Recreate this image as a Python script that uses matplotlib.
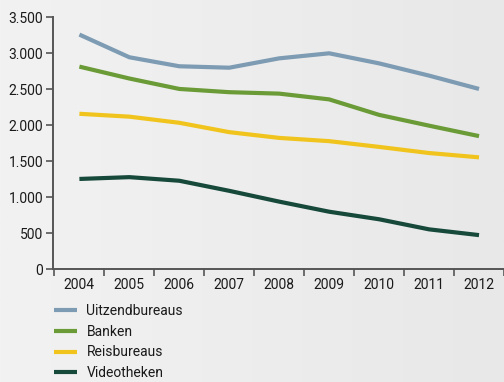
import numpy as np
import matplotlib
matplotlib.use("Agg")
import matplotlib.pyplot as plt
from matplotlib import font_manager

years = ["2004", "2005", "2006", "2007", "2008", "2009", "2010", "2011", "2012"]
uitzendbureaus = [3260, 2945, 2820, 2800, 2930, 3000, 2860, 2690, 2505]
banken = [2815, 2650, 2505, 2460, 2440, 2360, 2145, 1995, 1850]
reisbureaus = [2160, 2120, 2035, 1905, 1825, 1780, 1700, 1615, 1555]
videotheken = [1255, 1280, 1230, 1090, 940, 800, 695, 555, 475]

series_names = ["Uitzendbureaus", "Banken", "Reisbureaus", "Videotheken"]
series_values = [uitzendbureaus, banken, reisbureaus, videotheken]
colors = ["#7d9bb3", "#6a9b37", "#f0c41c", "#17493b"]
yticks = [0, 500, 1000, 1500, 2000, 2500, 3000, 3500]

available = {f.name for f in font_manager.fontManager.ttflist}
family = [f for f in ["Liberation Sans Narrow", "Roboto", "DejaVu Sans"] if f in available]
plt.rcParams["font.family"] = family

fig = plt.figure(figsize=(5.04, 3.82), dpi=100)

# soft horizontal background gradient
bg = fig.add_axes([0, 0, 1, 1], zorder=-10)
grad = np.linspace(0, 1, 256).reshape(1, -1)
bg.imshow(grad, aspect="auto", cmap=matplotlib.colors.LinearSegmentedColormap.from_list(
    "bg", ["#f2f2f2", "#e8e8e9"]), extent=[0, 1, 0, 1])
bg.axis("off")

ax = fig.add_axes([0.105, 0.295, 0.895, 0.6597])
ax.patch.set_alpha(0)
x = np.arange(len(years))
lines = []
for name, vals, c in zip(series_names, series_values, colors):
    ln, = ax.plot(x, vals, color=c, lw=3.0, solid_capstyle="butt", label=name)
    lines.append(ln)

ax.set_ylim(0, 3500)
ax.set_xlim(-0.53, 8.33)
ax.set_yticks(yticks)
ax.set_yticklabels([f"{v:,}".replace(",", ".") for v in yticks])
ax.set_xticks(x)
ax.set_xticklabels(years)
ax.set_xticks(np.arange(-0.5, 8.6, 1.0), minor=True)
ax.tick_params(axis="x", which="major", length=0, pad=6, labelsize=10, colors="#1a1a1a")
ax.tick_params(axis="x", which="minor", length=5, width=1.2, color="#555555", direction="out")
ax.tick_params(axis="y", length=5, width=1.2, color="#555555", labelsize=10, labelcolor="#1a1a1a", pad=2)
for s in ["top", "right"]:
    ax.spines[s].set_visible(False)
for s in ["left", "bottom"]:
    ax.spines[s].set_color("#555555")
    ax.spines[s].set_linewidth(1.4)

leg = fig.legend(handles=lines, loc="upper left", bbox_to_anchor=(0.108, 0.204),
                 frameon=False, fontsize=10, handlelength=1.6, handletextpad=0.7,
                 labelspacing=0.48, borderaxespad=0, borderpad=0)
for t in leg.get_texts():
    t.set_color("#1a1a1a")

fig.savefig("out.png", dpi=100)
